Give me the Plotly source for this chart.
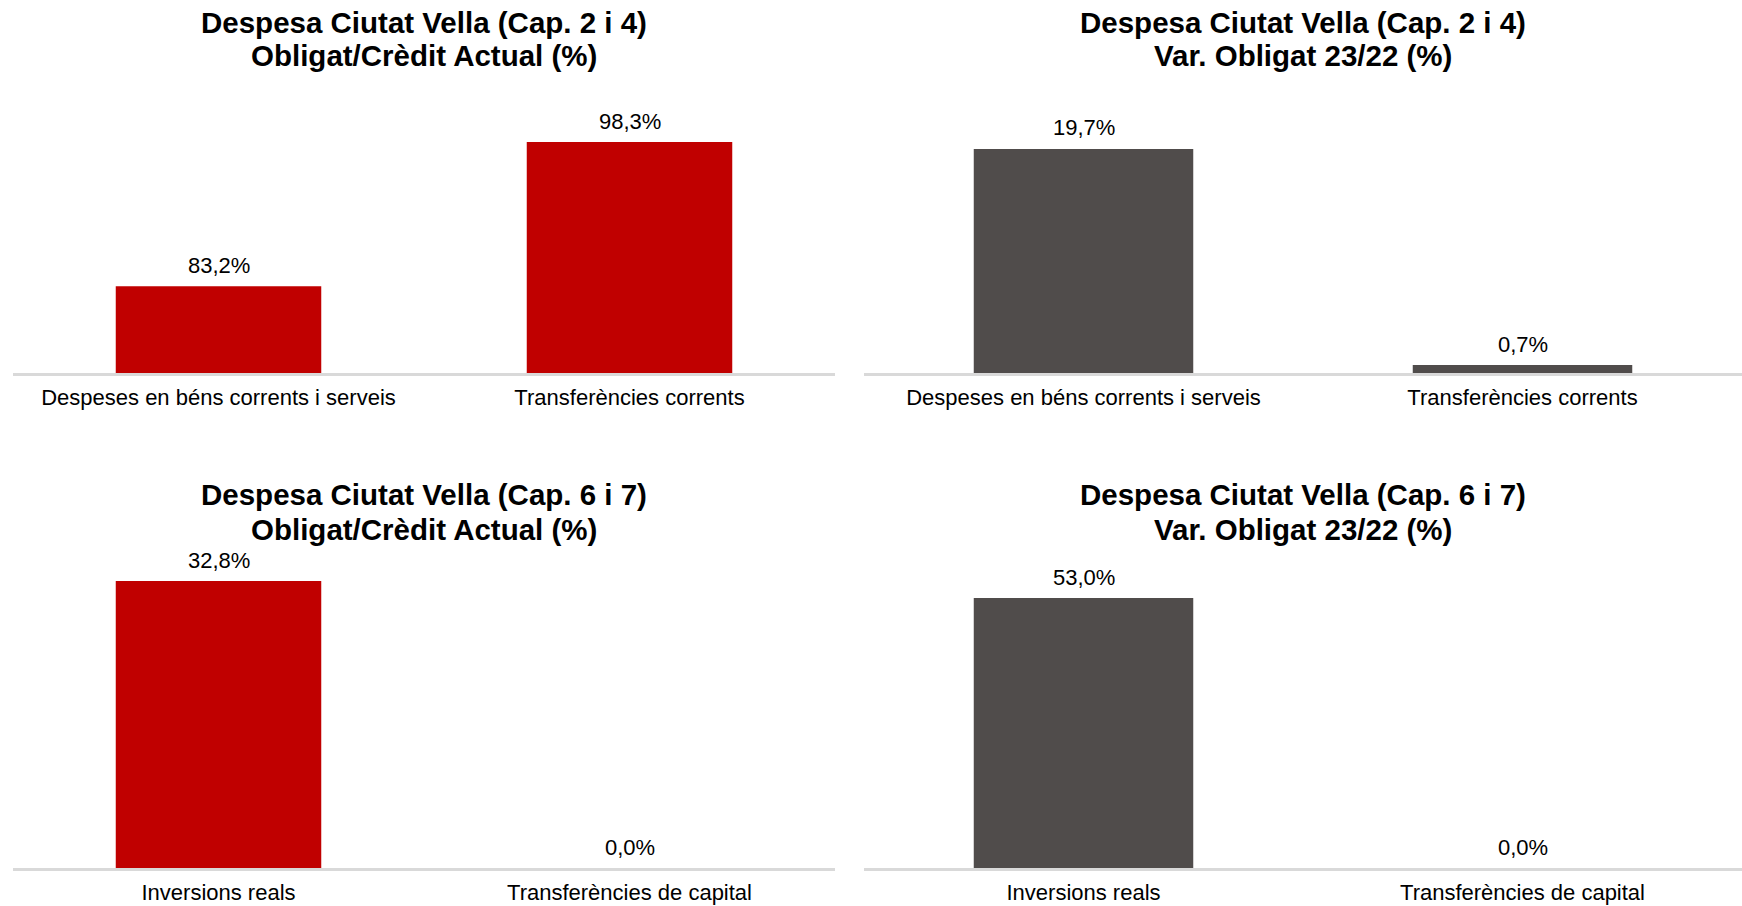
import plotly.graph_objects as go

# data
cats_cur = ["Despeses en béns corrents i serveis", "Transferències corrents"]
cats_cap = ["Inversions reals", "Transferències de capital"]
exec_cur = [83.2, 98.3]
var_cur = [19.7, 0.7]
exec_cap = [32.8, 0.0]
var_cap = [53.0, 0.0]

titles = [
    ("Despesa Ciutat Vella (Cap. 2 i 4)", "Obligat/Crèdit Actual (%)"),
    ("Despesa Ciutat Vella (Cap. 2 i 4)", "Var. Obligat 23/22 (%)"),
    ("Despesa Ciutat Vella (Cap. 6 i 7)", "Obligat/Crèdit Actual (%)"),
    ("Despesa Ciutat Vella (Cap. 6 i 7)", "Var. Obligat 23/22 (%)"),
]

RED = "#C00000"
GREY = "#504C4B"
W, H = 1742, 906
FONT = "Liberation Sans Narrow, Arial Narrow, Liberation Sans, Arial, sans-serif"


def fmt(v):
    return f"{v:.1f}".replace(".", ",") + "%"


def px_x(p):
    return min(max(p / W, 0), 1)


def px_y(p):
    return min(max(1 - p / H, 0), 1)


# panel geometry in pixels: x span, (bottom, top), y range, title line centres
panels = [
    (cats_cur, exec_cur, RED, (13, 835), (373, 100), [74.1, 102.7], (22, 56)),
    (cats_cur, var_cur, GREY, (864, 1742), (373, 100), [0, 24.0], (22, 56)),
    (cats_cap, exec_cap, RED, (13, 835), (868, 540), [0, 37.5], (494, 529)),
    (cats_cap, var_cap, GREY, (864, 1742), (868, 540), [0, 64.4], (494, 529)),
]

fig = go.Figure()
layout = {}
for i, (cats, vals, col, (x0, x1), (yb, yt), yr, ty) in enumerate(panels):
    n = "" if i == 0 else str(i + 1)
    fig.add_trace(go.Bar(
        x=cats, y=vals, marker=dict(color=col, line=dict(width=0)),
        width=0.5, xaxis="x" + n, yaxis="y" + n, showlegend=False,
    ))
    for c, v in zip(cats, vals):
        fig.add_annotation(
            x=c, y=v, xref="x" + n, yref="y" + n, text=fmt(v),
            showarrow=False, yanchor="middle", yshift=21,
            font=dict(size=22, color="#000000", family=FONT),
        )
    layout["xaxis" + n] = dict(
        domain=[px_x(x0), px_x(x1)], anchor="y" + n, showline=True,
        linecolor="#D9D9D9", linewidth=2.5, ticks="", showgrid=False,
        ticklabelstandoff=3,
        tickfont=dict(size=22, color="#000000", family=FONT),
        fixedrange=True,
    )
    layout["yaxis" + n] = dict(
        domain=[px_y(yb), px_y(yt)], anchor="x" + n, range=yr,
        visible=False, showgrid=False, zeroline=False, fixedrange=True,
    )
    for line, yy in zip(titles[i], ty):
        fig.add_annotation(
            text="<b>" + line + "</b>", xref="paper", yref="paper",
            x=px_x((x0 + x1) / 2), y=px_y(yy),
            xanchor="center", yanchor="middle", showarrow=False,
            font=dict(size=29.5, color="#000000", family=FONT),
        )

fig.update_layout(
    **layout,
    width=W, height=H, margin=dict(l=0, r=0, t=0, b=0),
    paper_bgcolor="white", plot_bgcolor="white",
)

fig.write_html(
    "out.html",
    config={"displayModeBar": False},
    post_script="document.body.style.margin='0';document.body.style.overflow='hidden';",
)
